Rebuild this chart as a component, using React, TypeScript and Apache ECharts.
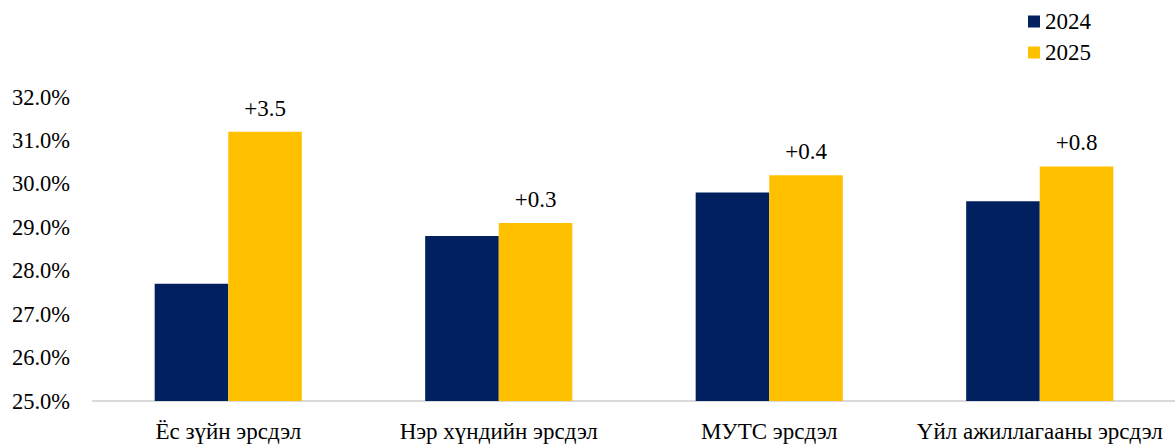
import React, { useEffect, useRef } from "react";
import * as echarts from "echarts";

const categories = ["Ёс зүйн эрсдэл", "Нэр хүндийн эрсдэл", "МУТС эрсдэл", "Үйл ажиллагааны эрсдэл"];
const values2024 = [27.7, 28.8, 29.8, 29.6];
const values2025 = [31.2, 29.1, 30.2, 30.4];
const changes = ["+3.5", "+0.3", "+0.4", "+0.8"];
const yTicks = { min: 25, max: 32, interval: 1 };

const FONT = "Liberation Serif";
const FS = 23;

export default function App() {
  const ref = useRef<HTMLDivElement>(null);
  useEffect(() => {
    if (!ref.current) return;
    const chart = echarts.init(ref.current, null, { renderer: "svg" });
    chart.setOption({
      animation: false,
      textStyle: { fontFamily: FONT },
      legend: {
        orient: "vertical",
        left: 1023,
        top: 5,
        itemWidth: 12,
        itemHeight: 12,
        itemGap: 8,
        icon: "rect",
        textStyle: { fontFamily: FONT, fontSize: FS, color: "#000" },
        data: ["2024", "2025"],
      },
      grid: { left: 93, right: 0, top: 97, bottom: 43, containLabel: false },
      xAxis: {
        type: "category",
        data: categories,
        axisLine: { show: true, lineStyle: { color: "#d9d9d9", width: 2 } },
        axisTick: { show: false },
        axisLabel: { fontFamily: FONT, fontSize: FS, color: "#000", margin: 19, interval: 0 },
      },
      yAxis: {
        type: "value",
        min: yTicks.min,
        max: yTicks.max,
        interval: yTicks.interval,
        axisLine: { show: false },
        axisTick: { show: false },
        splitLine: { show: false },
        axisLabel: {
          fontFamily: FONT,
          fontSize: 22.5,
          color: "#000",
          margin: 23,
          formatter: (v: number) => v.toFixed(1) + "%",
        },
      },
      series: [
        {
          name: "2024",
          type: "bar",
          data: values2024,
          barWidth: "27.2%",
          barGap: "0%",
          itemStyle: { color: "#002060" },
        },
        {
          name: "2025",
          type: "bar",
          data: values2025,
          barWidth: "27.2%",
          barGap: "0%",
          itemStyle: { color: "#FFC000" },
          label: {
            show: true,
            position: "top",
            distance: 12,
            fontFamily: FONT,
            fontSize: FS,
            color: "#000",
            formatter: (p: any) => changes[p.dataIndex],
          },
        },
      ],
    });
    return () => chart.dispose();
  }, []);
  return <div ref={ref} style={{ width: 1175, height: 444, position: "absolute", left: 0, top: 0 }} />;
}
